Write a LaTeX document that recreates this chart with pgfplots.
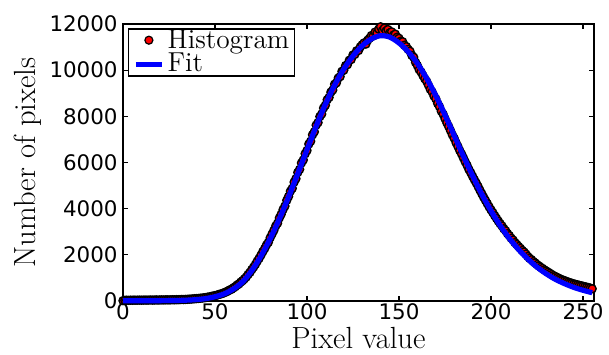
\documentclass[border=0pt]{standalone}
\usepackage{fontspec}
\usepackage{pgfplots}
\pgfplotsset{compat=1.18}
\newfontfamily\tickfont{DejaVu Sans}
\pgfplotsset{
  histleg/.style={legend image code/.code={\path[draw=none] (0pt,-1pt) rectangle (13pt,1pt); \path[draw=none] plot[only marks, mark=*, mark size=2pt, mark options={fill=red, draw=black, line width=0.6pt}] coordinates {(6.5pt,0.3pt)};}},
  fitleg/.style={legend image code/.code={\draw[##1, line width=2.2pt] (0pt,0pt) -- (13pt,0pt);}},
}
\begin{document}
\begin{tikzpicture}
\path[use as bounding box] (-61.5pt,-26.5pt) rectangle (243pt,150.5pt);
\begin{axis}[
  at={(0,0)}, anchor=south west,
  scale only axis, width=235.5pt, height=138.5pt,
  xmin=0, xmax=256, ymin=0, ymax=12000,
  xtick={0,50,...,250}, ytick={0,2000,...,12000},
  scaled y ticks=false, scaled x ticks=false,
  tick pos=both, tick align=inside, major tick length=2.5pt,
  minor tick num=0,
  axis line style={line width=0.9pt},
  every tick/.style={black, line width=0.6pt},
  ticklabel style={font=\tickfont\fontsize{10.7}{12}\selectfont},
  xticklabel={\pgfmathprintnumber[assume math mode=true,1000 sep={}]{\tick}},
  yticklabel={\pgfmathprintnumber[assume math mode=true,1000 sep={}]{\tick}},
  xticklabel style={inner sep=0pt, yshift=-1.2pt},
  yticklabel style={inner sep=0pt, xshift=-2.5pt},
  xlabel={Pixel value}, ylabel={Number of pixels},
  label style={font=\fontsize{15.3}{18}\selectfont},
  xlabel style={at={(axis description cs:0.5,-0.1697)}, anchor=base},
  ylabel style={at={(axis description cs:-0.1868,0.5)}, anchor=base},
  clip=false, clip marker paths=true,
  legend cell align=left,
  legend style={at={(axis description cs:0.0106,0.9845)}, anchor=north west,
    font=\fontsize{13.7}{15}\selectfont, draw=black, line width=0.7pt,
    inner xsep=2.5pt, inner ysep=0pt, row sep=0pt, column sep=1.8pt,
    nodes={inner sep=0pt, text height=9.6pt, text depth=2.2pt}},
]
\addplot[only marks, mark=*, mark size=2pt, mark options={fill=red, draw=black, line width=0.7pt}, histleg]
coordinates {
(0,15) (1,32) (2,35) (3,30) (4,36) (5,33) (6,38) (7,34) (8,37) (9,40)
(10,36) (11,39) (12,42) (13,38) (14,41) (15,44) (16,40) (17,43) (18,46) (19,42)
(20,45) (21,48) (22,44) (23,49) (24,51) (25,47) (26,52) (27,55) (28,53) (29,58)
(30,56) (31,62) (32,66) (33,64) (34,70) (35,74) (36,80) (37,84) (38,92) (39,98)
(40,104) (41,110) (42,120) (43,128) (44,140) (45,150) (46,166) (47,178) (48,200) (49,214)
(50,236) (51,250) (52,282) (53,300) (54,330) (55,356) (56,395) (57,430) (58,480) (59,510)
(60,570) (61,620) (62,690) (63,740) (64,820) (65,880) (66,960) (67,1040) (68,1150) (69,1240)
(70,1360) (71,1470) (72,1590) (73,1730) (74,1850) (75,1990) (76,2140) (77,2270) (78,2430) (79,2540)
(80,2740) (81,2900) (82,3060) (83,3250) (84,3370) (85,3600) (86,3760) (87,3960) (88,4110) (89,4360)
(90,4530) (91,4760) (92,4880) (93,5150) (94,5300) (95,5570) (96,5700) (97,5980) (98,6110) (99,6380)
(100,6520) (101,6800) (102,6920) (103,7200) (104,7330) (105,7620) (106,7730) (107,7990) (108,8100) (109,8360)
(110,8480) (111,8720) (112,8820) (113,9050) (114,9140) (115,9390) (116,9450) (117,9660) (118,9720) (119,9950)
(120,10000) (121,10200) (122,10240) (123,10430) (124,10460) (125,10660) (126,10680) (127,10840) (128,10850) (129,11010)
(130,11100) (131,11180) (132,11130) (133,11300) (134,11380) (135,11500) (136,11480) (137,11650) (138,11600) (139,11780)
(140,11880) (141,11720) (142,11820) (143,11700) (144,11760) (145,11620) (146,11660) (147,11520) (148,11560) (149,11430)
(150,11380) (151,11260) (152,11230) (153,11080) (154,11020) (155,10900) (156,10820) (157,10640) (158,10560) (159,10340)
(160,10200) (161,10020) (162,9920) (163,9770) (164,9630) (165,9520) (166,9350) (167,9170) (168,9060) (169,8880)
(170,8760) (171,8560) (172,8420) (173,8220) (174,8090) (175,7900) (176,7720) (177,7560) (178,7380) (179,7200)
(180,7050) (181,6860) (182,6700) (183,6520) (184,6370) (185,6200) (186,6030) (187,5880) (188,5700) (189,5560)
(190,5400) (191,5250) (192,5110) (193,4960) (194,4800) (195,4650) (196,4500) (197,4360) (198,4220) (199,4080)
(200,3950) (201,3830) (202,3700) (203,3580) (204,3460) (205,3350) (206,3250) (207,3130) (208,3040) (209,2920)
(210,2830) (211,2720) (212,2640) (213,2530) (214,2450) (215,2360) (216,2280) (217,2190) (218,2120) (219,2030)
(220,1930) (221,1850) (222,1790) (223,1710) (224,1650) (225,1580) (226,1520) (227,1460) (228,1410) (229,1350)
(230,1300) (231,1250) (232,1200) (233,1150) (234,1100) (235,1060) (236,1020) (237,980) (238,940) (239,910)
(240,880) (241,850) (242,820) (243,790) (244,770) (245,740) (246,720) (247,700) (248,680) (249,660)
(250,640) (251,620) (252,600) (253,580) (254,560) (255,530)
};
\addlegendentry{Histogram}
\addplot[blue, line width=2.6pt, smooth, no markers, fitleg]
coordinates {
(0,12) (5,12) (10,12) (15,13) (20,15) (25,18) (30,25) (35,38) (40,62) (45,105)
(50,185) (55,310) (60,520) (65,830) (70,1320) (75,1950) (80,2700) (85,3560) (90,4510) (95,5520)
(100,6550) (105,7570) (110,8520) (115,9345) (120,10045) (125,10615) (130,11055) (135,11355) (140,11495) (145,11430)
(150,11180) (155,10800) (160,10290) (165,9650) (170,8900) (175,8060) (180,7170) (185,6280) (190,5430) (195,4630)
(200,3910) (205,3270) (210,2710) (215,2230) (220,1820) (225,1470) (230,1180) (235,940) (240,750) (245,590)
(250,465) (255,360)
};
\addlegendentry{Fit}
\end{axis}
\end{tikzpicture}
\end{document}
